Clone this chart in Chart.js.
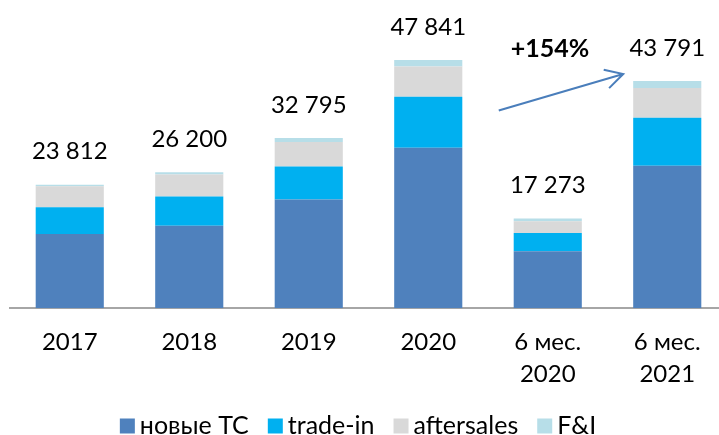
<!DOCTYPE html>
<html>
<head>
<meta charset="utf-8">
<script src="https://cdn.jsdelivr.net/npm/chart.js@4"></script>
<style>
  html, body { margin: 0; padding: 0; background: #fff; overflow: hidden; }
  #wrap { position: relative; width: 727px; height: 435px; }
</style>
</head>
<body>
<div id="wrap"><canvas id="chart"></canvas></div>
<script>
const categories = ["2017", "2018", "2019", "2020", ["6 мес.", "2020"], ["6 мес.", "2021"]];
const newCars = [14280, 15906, 20937, 30921, 10991, 27438];
const tradeIn = [5167, 5611, 6385, 9811, 3483, 9288];
const aftersales = [4063, 4257, 4702, 5863, 2264, 5689];
const fi = [302, 426, 771, 1246, 535, 1376];
const totals = [23812, 26200, 32795, 47841, 17273, 43791];
const growthLabel = "+154%";
const yMax = 59400;

const fontFamily = "Lato, 'Open Sans', sans-serif";

function formatTotal(value) {
  return String(value).replace(/\B(?=(\d{3})+(?!\d))/g, " ");
}

// totals above each bar + growth arrow between the two half-year bars
const annotations = {
  id: "annotations",
  afterDatasetsDraw(chart) {
    const ctx = chart.ctx;
    const x = chart.scales.x;
    const y = chart.scales.y;
    ctx.save();
    ctx.fillStyle = "#000";
    ctx.font = "24px " + fontFamily;
    ctx.textAlign = "center";
    ctx.textBaseline = "middle";
    totals.forEach((total, i) => {
      ctx.fillText(formatTotal(total), x.getPixelForValue(i), y.getPixelForValue(total) - 33);
    });

    const from = { x: x.getPixelForValue(4) - 49, y: y.getPixelForValue(totals[4]) - 108 };
    const to = { x: x.getPixelForValue(5) - 44, y: y.getPixelForValue(totals[5]) - 7 };
    const angle = Math.atan2(to.y - from.y, to.x - from.x);
    ctx.strokeStyle = "#4a7ebb";
    ctx.lineWidth = 2;
    ctx.beginPath();
    ctx.moveTo(from.x, from.y);
    ctx.lineTo(to.x, to.y);
    ctx.moveTo(to.x - 20 * Math.cos(angle - 0.5), to.y - 20 * Math.sin(angle - 0.5));
    ctx.lineTo(to.x, to.y);
    ctx.lineTo(to.x - 20 * Math.cos(angle + 0.5), to.y - 20 * Math.sin(angle + 0.5));
    ctx.stroke();

    ctx.font = "bold 25px " + fontFamily;
    ctx.fillText(growthLabel, (from.x + to.x) / 2 - 11, from.y - 62);
    ctx.restore();
  },
};

// legend drawn by hand so box/text gaps match the original
const bottomLegend = {
  id: "bottomLegend",
  afterDraw(chart) {
    const ctx = chart.ctx;
    const items = chart.data.datasets;
    ctx.save();
    ctx.font = "25px " + fontFamily;
    ctx.textBaseline = "middle";
    ctx.textAlign = "left";
    const widths = items.map((ds) => 15 + 5 + ctx.measureText(ds.label).width);
    const total = widths.reduce((a, b) => a + b, 0) + 19 * (items.length - 1);
    let left = 358 - total / 2;
    const mid = 426;
    items.forEach((ds, i) => {
      ctx.fillStyle = ds.backgroundColor;
      ctx.fillRect(left, mid - 7.5, 15, 15);
      ctx.fillStyle = "#000";
      ctx.fillText(ds.label, left + 20, mid);
      left += widths[i] + 19;
    });
    ctx.restore();
  },
};

new Chart(document.getElementById("chart"), {
  type: "bar",
  data: {
    labels: categories,
    datasets: [
      { label: "новые ТС", data: newCars, backgroundColor: "#4f81bd" },
      { label: "trade-in", data: tradeIn, backgroundColor: "#00b0f0" },
      { label: "aftersales", data: aftersales, backgroundColor: "#d9d9d9" },
      { label: "F&I", data: fi, backgroundColor: "#b7dee8" },
    ],
  },
  options: {
    responsive: true,
    maintainAspectRatio: false,
    animation: false,
    layout: { padding: { left: 10, right: 0, top: 0, bottom: 27 } },
    datasets: {
      bar: { categoryPercentage: 1, barPercentage: 0.57, borderWidth: 0 },
    },
    plugins: {
      legend: { display: false },
      tooltip: { enabled: false },
    },
    scales: {
      x: {
        stacked: true,
        grid: { display: false, drawTicks: false },
        border: { display: true, color: "#a6a6a6", width: 2 },
        ticks: {
          color: "#000",
          font: { family: fontFamily, size: 24, lineHeight: 1.33 },
          padding: 18,
          maxRotation: 0,
          autoSkip: false,
        },
      },
      y: {
        stacked: true,
        display: false,
        min: 0,
        max: yMax,
      },
    },
  },
  plugins: [annotations, bottomLegend],
});
</script>
</body>
</html>
